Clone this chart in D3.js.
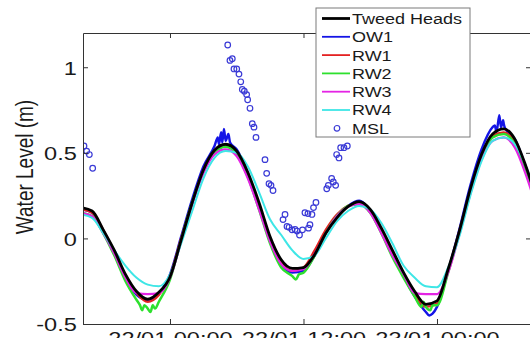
<!DOCTYPE html>
<html>
<head>
<meta charset="utf-8">
<script src="https://cdnjs.cloudflare.com/ajax/libs/d3/7.8.5/d3.min.js"></script>
<style>
  html, body { margin: 0; padding: 0; background: #fff; }
  svg { display: block; }
  text { font-family: "Liberation Sans", Arial, sans-serif; fill: #1a1a1a; }
</style>
</head>
<body>
<div id="chart"></div>
<script>
// sample times, hours after 22/01 00:00
const hours = [-8, -7, -6, -5, -4, -3, -2, -1, 0, 1, 2, 3, 4, 5, 6, 7, 8, 9, 10, 11, 12, 13, 14, 15,
  16, 17, 18, 19, 20, 21, 22, 23, 24, 25, 26, 27, 28, 29, 30, 31, 32, 33];

const tweedHeads = [0.18, 0.16, 0.05, -0.07, -0.21, -0.31, -0.355, -0.315, -0.225, -0.01, 0.21, 0.40, 0.515, 0.55,
  0.51, 0.385, 0.21, 0.01, -0.125, -0.175, -0.17, -0.095, 0.03, 0.12, 0.185, 0.215, 0.17, 0.06, -0.07, -0.20,
  -0.31, -0.385, -0.365, -0.18, 0.04, 0.29, 0.49, 0.61, 0.64, 0.58, 0.42, 0.22];
const ow1 = [0.17, 0.15, 0.04, -0.09, -0.23, -0.33, -0.36, -0.32, -0.21, 0.01, 0.23, 0.42, 0.54, 0.57,
  0.52, 0.38, 0.19, -0.01, -0.15, -0.20, -0.19, -0.10, 0.03, 0.13, 0.19, 0.22, 0.16, 0.04, -0.09, -0.22,
  -0.34, -0.43, -0.40, -0.19, 0.05, 0.31, 0.52, 0.65, 0.67, 0.58, 0.41, 0.20];
// extra noisy OW1 samples near the peaks / low tide
const ow1SpikeHours = [4.3, 4.4, 4.6, 4.7, 4.85, 5.0, 5.25, 5.4, 23.3, 23.6, 29.2, 29.35, 29.6, 29.75, 29.95, 30.15];
const ow1SpikeValues = [0.59, 0.55, 0.62, 0.56, 0.64, 0.57, 0.61, 0.56, -0.45, -0.44, 0.66, 0.62, 0.72, 0.65, 0.69, 0.64];
const rw1 = [0.17, 0.15, 0.05, -0.08, -0.22, -0.32, -0.37, -0.33, -0.22, 0.00, 0.21, 0.40, 0.51, 0.54,
  0.50, 0.37, 0.19, -0.01, -0.14, -0.19, -0.17, -0.07, 0.05, 0.14, 0.19, 0.205, 0.16, 0.04, -0.09, -0.21,
  -0.33, -0.40, -0.38, -0.19, 0.04, 0.28, 0.48, 0.60, 0.62, 0.56, 0.40, 0.20];
const rw2 = [0.15, 0.13, 0.03, -0.10, -0.25, -0.36, -0.41, -0.37, -0.24, -0.01, 0.21, 0.39, 0.50, 0.535,
  0.49, 0.36, 0.17, -0.03, -0.17, -0.22, -0.20, -0.10, 0.03, 0.13, 0.19, 0.20, 0.15, 0.03, -0.11, -0.23,
  -0.34, -0.40, -0.39, -0.20, 0.03, 0.27, 0.47, 0.59, 0.61, 0.55, 0.39, 0.19];
// extra noisy RW2 samples at the low tides
const rw2NoiseHours = [-2.7, -2.5, -2.3, -1.75, -1.55, -1.35, 11.3, 11.6, 22.6, 22.8, 23.4, 23.6];
const rw2NoiseValues = [-0.39, -0.42, -0.39, -0.43, -0.39, -0.41, -0.24, -0.21, -0.40, -0.37, -0.42, -0.39];
const rw3 = [0.15, 0.13, 0.03, -0.09, -0.23, -0.32, -0.325, -0.32, -0.23, -0.02, 0.20, 0.38, 0.49, 0.52,
  0.48, 0.35, 0.17, -0.02, -0.15, -0.19, -0.18, -0.09, 0.03, 0.13, 0.185, 0.20, 0.15, 0.03, -0.10, -0.21,
  -0.32, -0.325, -0.325, -0.20, 0.02, 0.26, 0.46, 0.57, 0.59, 0.53, 0.37, 0.17];
const rw4 = [0.14, 0.12, 0.03, -0.07, -0.16, -0.23, -0.27, -0.28, -0.21, -0.03, 0.16, 0.35, 0.47, 0.51,
  0.50, 0.42, 0.27, 0.11, 0.02, -0.07, -0.12, -0.10, 0.00, 0.10, 0.16, 0.19, 0.17, 0.09, -0.03, -0.16,
  -0.23, -0.28, -0.285, -0.17, 0.01, 0.25, 0.45, 0.57, 0.59, 0.55, 0.42, 0.24];

const mslHours = [-7.73, -7.49, -7.25, -6.95, 5.19, 5.39, 5.60, 5.75, 6.00, 6.20, 6.36, 6.50, 6.68, 6.89, 6.98,
  7.19, 7.40, 7.55, 7.73, 8.54, 8.69, 8.90, 9.08, 9.26, 10.16, 10.34, 10.52, 10.70, 10.97, 11.24, 11.42,
  11.64, 11.91, 12.13, 12.40, 12.45, 12.58, 12.76, 12.90, 13.12, 14.09, 14.23, 14.53, 14.68, 14.89, 14.98,
  15.19, 15.34, 15.64, 15.94];
const mslValues = [0.54, 0.51, 0.49, 0.41, 1.13, 1.04, 1.05, 0.99, 0.99, 0.96, 0.915, 0.87, 0.86, 0.84, 0.81,
  0.76, 0.67, 0.65, 0.59, 0.46, 0.38, 0.32, 0.31, 0.28, 0.11, 0.14, 0.07, 0.065, 0.05, 0.052, 0.043,
  0.02, 0.05, 0.15, 0.145, 0.06, 0.08, 0.14, 0.18, 0.21, 0.29, 0.31, 0.35, 0.33, 0.31, 0.49,
  0.47, 0.53, 0.53, 0.54];

const xTickHours = [0, 12, 24];
const yTicks = [-0.5, 0, 0.5, 1];
const legendNames = ['Tweed Heads', 'OW1', 'RW1', 'RW2', 'RW3', 'RW4', 'MSL'];

const width = 530;
const height = 338;
const margin = { top: 33, right: -1, bottom: 14, left: 83 };

const t0 = new Date(2013, 0, 22, 0, 0);
const toDate = h => new Date(t0.getTime() + h * 3600000);

const svg = d3.select('#chart').append('svg')
  .attr('width', width)
  .attr('height', height);

const x = d3.scaleTime()
  .domain([toDate(-7.82), toDate(32.45)])
  .range([margin.left, width - margin.right]);

const y = d3.scaleLinear()
  .domain([-0.5, 1.2])
  .range([height - margin.bottom, margin.top]);

const pairs = vals => hours.map((h, i) => [h, vals[i]]);
const withExtra = (vals, extraH, extraV) => pairs(vals)
  .concat(extraH.map((h, i) => [h, extraV[i]]))
  .sort((a, b) => a[0] - b[0]);

const series = [
  { name: 'OW1', data: withExtra(ow1, ow1SpikeHours, ow1SpikeValues), color: '#1414e6', w: 2.4 },
  { name: 'RW1', data: pairs(rw1), color: '#e42222', w: 2.3 },
  { name: 'RW2', data: withExtra(rw2, rw2NoiseHours, rw2NoiseValues), color: '#2ee02e', w: 2.5 },
  { name: 'RW3', data: pairs(rw3), color: '#e424e4', w: 2.2 },
  { name: 'RW4', data: pairs(rw4), color: '#3ee6e6', w: 2 },
  { name: 'Tweed Heads', data: pairs(tweedHeads), color: '#000', w: 2.8 }
];

svg.append('defs').append('clipPath').attr('id', 'plotclip')
  .append('rect')
  .attr('x', margin.left)
  .attr('y', margin.top)
  .attr('width', width - margin.right - margin.left)
  .attr('height', height - margin.bottom - margin.top);

const line = d3.line()
  .x(d => x(toDate(d[0])))
  .y(d => y(d[1]))
  .curve(d3.curveMonotoneX);

const plot = svg.append('g').attr('clip-path', 'url(#plotclip)');

plot.selectAll('.series')
  .data(series)
  .enter().append('path')
  .attr('class', 'series')
  .attr('fill', 'none')
  .attr('stroke', d => d.color)
  .attr('stroke-width', d => d.w)
  .attr('stroke-linejoin', 'round')
  .attr('d', d => line(d.data));

plot.selectAll('.msl')
  .data(mslHours.map((h, i) => [h, mslValues[i]]))
  .enter().append('circle')
  .attr('class', 'msl')
  .attr('cx', d => x(toDate(d[0])))
  .attr('cy', d => y(d[1]))
  .attr('r', 2.8)
  .attr('fill', 'none')
  .attr('stroke', '#3a3ad6')
  .attr('stroke-width', 1.2);

// axes (MATLAB style box with inward ticks)
const tickDates = xTickHours.map(toDate);

const gx = svg.append('g')
  .attr('transform', 'translate(0,' + (height - margin.bottom) + ')')
  .attr('color', '#333')
  .call(d3.axisBottom(x).tickValues(tickDates).tickFormat(d3.timeFormat('%d/%m %H:%M'))
    .tickSizeInner(-5).tickSizeOuter(0));
gx.selectAll('text')
  .attr('y', 21)
  .attr('dy', 0)
  .attr('font-size', 19)
  .attr('transform', 'scale(1.24,1)');

svg.append('g')
  .attr('transform', 'translate(0,' + margin.top + ')')
  .attr('color', '#333')
  .call(d3.axisTop(x).tickValues(tickDates).tickFormat('').tickSizeInner(-5).tickSizeOuter(0));

const gy = svg.append('g')
  .attr('transform', 'translate(' + margin.left + ',0)')
  .attr('color', '#333')
  .call(d3.axisLeft(y).tickValues(yTicks).tickFormat(d => String(d))
    .tickSizeInner(-5).tickPadding(5).tickSizeOuter(0));
gy.selectAll('text')
  .attr('font-size', 19)
  .attr('dy', '0.36em')
  .attr('transform', 'scale(1.24,1)');

svg.append('g')
  .attr('transform', 'translate(' + (width - margin.right) + ',0)')
  .attr('color', '#333')
  .call(d3.axisRight(y).tickValues(yTicks).tickFormat('').tickSizeInner(-5).tickSizeOuter(0));

svg.selectAll('.domain').attr('stroke-width', 1);

svg.append('text')
  .attr('transform', 'translate(33,167) scale(1.28,1) rotate(-90)')
  .attr('text-anchor', 'middle')
  .attr('font-size', 19)
  .text('Water Level (m)');

// legend
const legendColors = ['#000', '#1414e6', '#e42222', '#2ee02e', '#e424e4', '#3ee6e6'];
const legend = svg.append('g').attr('transform', 'translate(316,8)');
legend.append('rect')
  .attr('width', 154)
  .attr('height', 129)
  .attr('fill', '#fff')
  .attr('stroke', '#7a7a7a')
  .attr('stroke-width', 1);

const rows = legend.selectAll('.row')
  .data(legendNames)
  .enter().append('g')
  .attr('class', 'row')
  .attr('transform', (d, i) => 'translate(0,' + (10.5 + i * 18.3) + ')');

rows.filter((d, i) => i < 6).append('line')
  .attr('x1', 6).attr('x2', 34)
  .attr('stroke', (d, i) => legendColors[i])
  .attr('stroke-width', (d, i) => i === 0 ? 2.8 : 1.8);

rows.filter(d => d === 'MSL').append('circle')
  .attr('cx', 21).attr('r', 2.8)
  .attr('fill', 'none').attr('stroke', '#3a3ad6').attr('stroke-width', 1.2);

rows.append('text')
  .attr('transform', 'translate(36,0) scale(1.2,1)')
  .attr('dy', '0.36em')
  .attr('font-size', 15)
  .text(d => d);
</script>
</body>
</html>
